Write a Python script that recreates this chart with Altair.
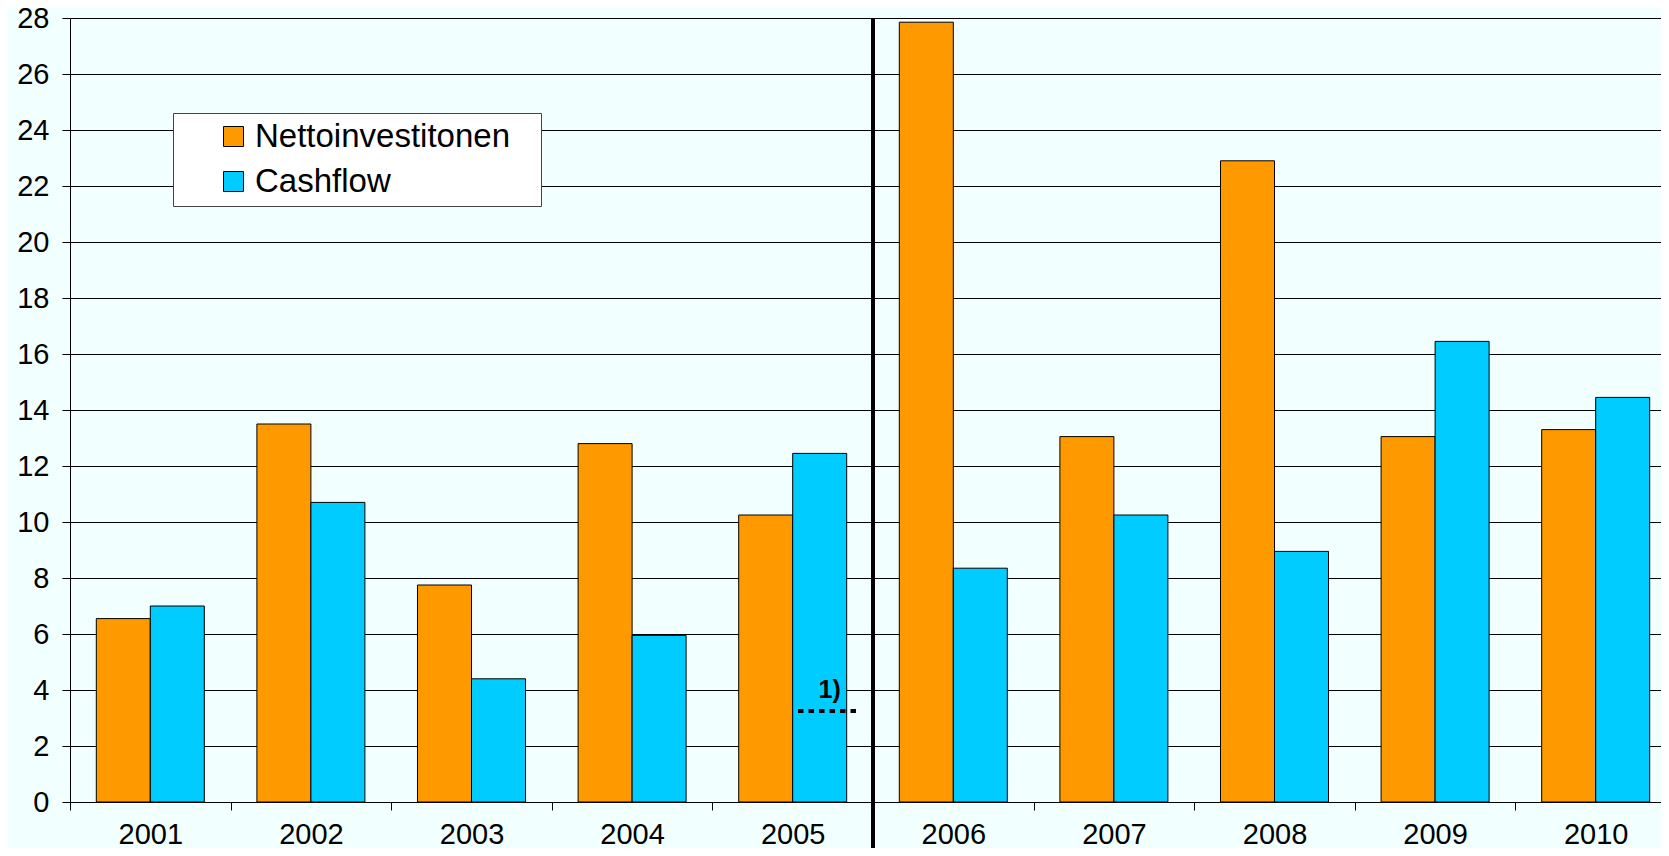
import altair as alt
import pandas as pd

years = ['2001', '2002', '2003', '2004', '2005', '2006', '2007', '2008', '2009', '2010']
netto = [6.55, 13.5, 7.75, 12.8, 10.25, 27.85, 13.05, 22.9, 13.05, 13.3]
cash = [7.0, 10.7, 4.4, 5.95, 12.45, 8.35, 10.25, 8.95, 16.45, 14.45]
series = ['Nettoinvestitonen', 'Cashflow']
colors = ['#FF9900', '#00CCFF']
y_ticks = list(range(0, 29, 2))
split_year = ['2006']
note_year = ['2005']
note_value = [3.25]
note_label = ['1)']

rows = []
for i, yr in enumerate(years):
    rows.append({'year': yr, 'series': series[0], 'value': netto[i]})
    rows.append({'year': yr, 'series': series[1], 'value': cash[i]})
df = pd.DataFrame(rows)
df_sep = pd.DataFrame({'year': split_year})
df_note = pd.DataFrame({'year': note_year, 'value': note_value, 'label': note_label})

W, H = 1606, 784
FONT = 'Liberation Sans'

x_scale = alt.Scale(domain=years, paddingInner=0, paddingOuter=0)
y_scale = alt.Scale(domain=[0, 28], nice=False)

bars = alt.Chart(df).mark_bar(stroke='black', strokeWidth=1).encode(
    x=alt.X('year:N', scale=x_scale, title=None),
    xOffset=alt.XOffset('series:N', scale=alt.Scale(domain=series, paddingInner=0, paddingOuter=0.487)),
    y=alt.Y('value:Q', scale=y_scale, title=None, axis=alt.Axis(values=y_ticks)),
    color=alt.Color('series:N', scale=alt.Scale(domain=series, range=colors),
                    legend=alt.Legend(orient='none', legendX=103, legendY=95, title=None,
                                      fillColor='white', strokeColor='#444', padding=7,
                                      symbolType='square', symbolSize=400,
                                      symbolStrokeColor='black', symbolStrokeWidth=1,
                                      symbolOffset=37, labelFontSize=33, labelFont=FONT,
                                      labelColor='black', labelOffset=5, rowPadding=11,
                                      labelLimit=0,
                                      labelExpr="datum.label + '\u2800'")),
)

sep = alt.Chart(df_sep).mark_rule(strokeWidth=4, color='black', clip=False).encode(
    x=alt.X('year:N', bandPosition=0, title=None),
    y=alt.value(0),
    y2=alt.value(H + 70),
)

note_line = alt.Chart(df_note).mark_rule(strokeWidth=4, color='black', strokeDash=[5.5, 5]).encode(
    x=alt.X('year:N', bandPosition=0.533, title=None),
    x2=alt.X2('year', bandPosition=0.895),
    y=alt.Y('value:Q', title=None),
)

note_text = alt.Chart(df_note).mark_text(fontWeight='bold', fontSize=25, font=FONT,
                                          baseline='alphabetic', dy=-13, align='center',
                                          color='black').encode(
    x=alt.X('year:N', bandPosition=0.73, title=None),
    y=alt.Y('value:Q', title=None),
    text='label:N',
)

chart = alt.layer(bars, sep, note_line, note_text).properties(
    width=W, height=H,
    padding={'left': 62, 'top': 10, 'right': -15, 'bottom': 46},
    autosize='none',
    background='#F2FFFF',
).configure_view(stroke=None).configure_axis(
    labelFont=FONT, labelColor='black', labelFontSize=29,
    domainColor='black', tickColor='black', tickSize=8,
).configure_axisX(
    labelAngle=0, tickBand='extent', grid=False, labelPadding=10,
).configure_axisY(
    grid=True, gridColor='black', gridWidth=1, labelPadding=13,
)

chart.save('out.html', embed_options={'renderer': 'svg', 'actions': False})
